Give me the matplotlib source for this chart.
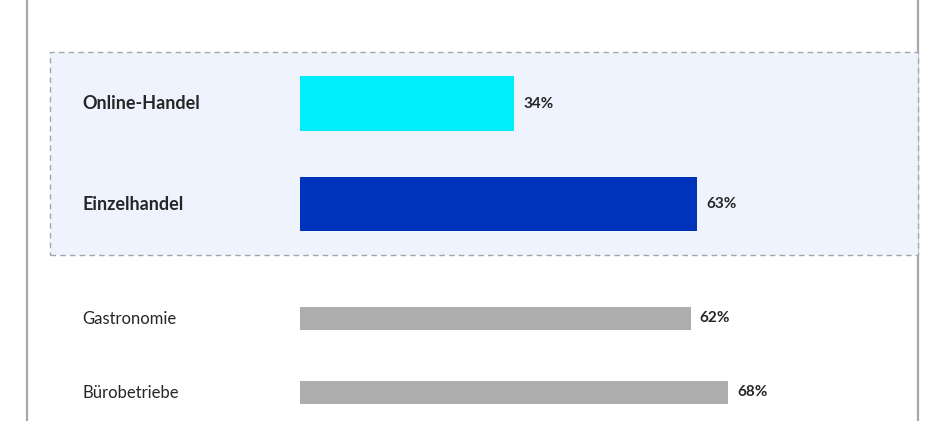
import matplotlib.pyplot as plt
from matplotlib.patches import Rectangle
from matplotlib.lines import Line2D
from matplotlib.transforms import blended_transform_factory

# Data
categories = ["Online-Handel", "Einzelhandel", "Gastronomie", "Bürobetriebe"]
values = [34, 63, 62, 68]
bar_colors = ["#00EEFB", "#0033BB", "#ADADAD", "#ADADAD"]
highlight = [True, True, False, False]

W, H = 945, 421
fig = plt.figure(figsize=(W / 100, H / 100), dpi=100)
plt.rcParams['font.family'] = ['Lato', 'DejaVu Sans']

# highlighted box behind the top two bars
box = Rectangle((50 / W, 1 - 255 / H), (918 - 50) / W, (255 - 52) / H,
                transform=fig.transFigure, facecolor="#EEF3FD",
                edgecolor="#A6A6A6", linestyle=(0, (4, 3)), linewidth=1.0,
                zorder=-1)
fig.patches.append(box)

# frame lines left and right
for xp in (27, 918):
    fig.lines.append(Line2D([xp / W, xp / W], [0, 1], transform=fig.transFigure,
                            color="#A8A8A8", linewidth=1.6, zorder=-1))

# axes: x=0 at pixel 300, 6.3 px per percent; y in pixels from top
ax = fig.add_axes([300 / W, 0, (918 - 300) / W, 1])
ax.set_xlim(0, (918 - 300) / 6.3)
ax.set_ylim(H, 0)
ax.axis("off")

y_pos = [103.5, 204, 318.5, 392.5]
heights = [55, 54, 23, 23]

ax.barh(y_pos, values, height=heights, color=bar_colors)

lab_tr = blended_transform_factory(fig.transFigure, ax.transData)
for cat, v, y, hl in zip(categories, values, y_pos, highlight):
    ax.text(82 / W, y, cat, transform=lab_tr, ha="left", va="center",
            fontsize=13 if hl else 12,
            fontweight="bold" if hl else "normal", color="#262626")
    ax.annotate(f"{v}%", (v, y), xytext=(9, 0), textcoords="offset pixels",
                ha="left", va="center", fontsize=11, fontweight="bold",
                color="#262626")

fig.savefig("out.png", dpi=100)
